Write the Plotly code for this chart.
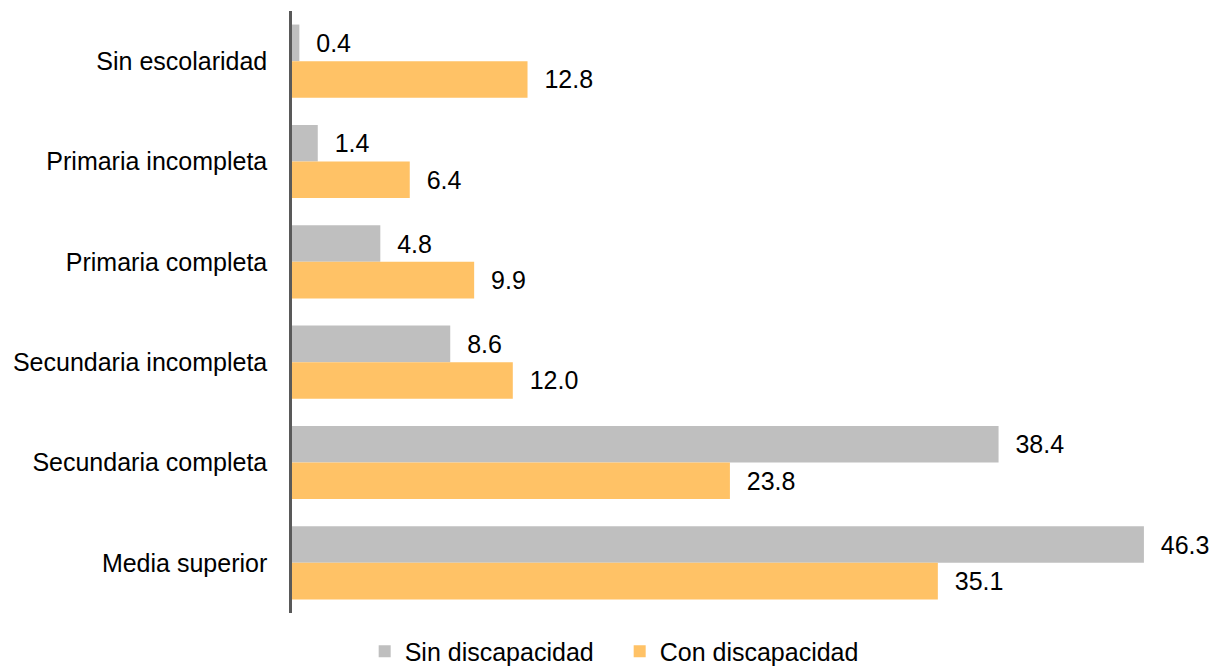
import plotly.graph_objects as go

categories = ["Sin escolaridad", "Primaria incompleta", "Primaria completa",
              "Secundaria incompleta", "Secundaria completa", "Media superior"]
sin_discapacidad = [0.4, 1.4, 4.8, 8.6, 38.4, 46.3]
con_discapacidad = [12.8, 6.4, 9.9, 12.0, 23.8, 35.1]

FONT = "Liberation Sans, Arial, sans-serif"
FS = 25

fig = go.Figure()
fig.add_trace(go.Bar(
    y=categories, x=sin_discapacidad, orientation="h", name="Sin discapacidad",
    marker=dict(color="#BFBFBF", line=dict(width=0)),
    texttemplate="\u00a0\u00a0%{x:.1f}", textposition="outside",
    textfont=dict(family=FONT, size=FS, color="#000000"), cliponaxis=False,
))
fig.add_trace(go.Bar(
    y=categories, x=con_discapacidad, orientation="h", name="Con discapacidad",
    marker=dict(color="#FFC266", line=dict(width=0)),
    texttemplate="\u00a0\u00a0%{x:.1f}", textposition="outside",
    textfont=dict(family=FONT, size=FS, color="#000000"), cliponaxis=False,
))

fig.update_layout(
    width=1215, height=666,
    margin=dict(l=292, r=3, t=11, b=53, autoexpand=False),
    barmode="group", bargap=0.27, bargroupgap=0,
    paper_bgcolor="white", plot_bgcolor="white",
    font=dict(family=FONT, size=FS, color="#000000"),
    showlegend=True,
    legend=dict(orientation="h", x=0.079, xanchor="left", y=-0.064, yanchor="middle",
                entrywidth=210, entrywidthmode="pixels",
                font=dict(family=FONT, size=FS, color="#000000"), traceorder="normal"),
)
fig.update_xaxes(range=[0, 50], showticklabels=False, showgrid=False, zeroline=False,
                 showline=False, ticks="")
fig.update_yaxes(autorange="reversed", showgrid=False, zeroline=False,
                 showline=True, linecolor="#595959", linewidth=2.5, ticks="",
                 ticklabelstandoff=17,
                 tickfont=dict(family=FONT, size=FS, color="#000000"))

fig.write_html("out.html", config={"displayModeBar": False},
               post_script="document.body.style.margin='0';document.body.style.overflow='hidden';")
